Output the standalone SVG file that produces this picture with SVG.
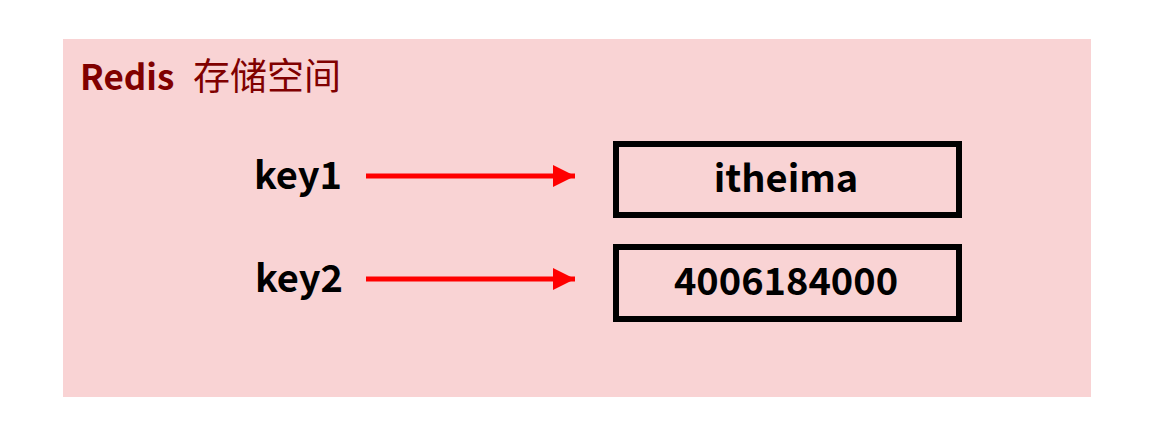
<svg xmlns="http://www.w3.org/2000/svg" width="1167" height="433" viewBox="0 0 1167 433">
<defs>
<style>
.lbl{font-family:"Noto Sans CJK SC","Liberation Sans",sans-serif;font-weight:bold;font-size:38px;fill:#000}
.box{fill:none;stroke:#000;stroke-width:6}
.arr{stroke:#FF0000;stroke-width:5;fill:none}
</style>
<marker id="ah" markerUnits="userSpaceOnUse" markerWidth="24" markerHeight="24" refX="22" refY="11" orient="auto">
<path d="M0,0 L22,11 L0,22 Z" fill="#FF0000"/>
</marker>
</defs>
<rect width="1167" height="433" fill="#FFFFFF"/>
<g id="storage">
<rect x="63" y="39" width="1028" height="358" fill="#F9D3D4"/>
<text x="80" y="90" font-family="Noto Sans CJK SC,Liberation Sans,sans-serif" font-size="35" fill="#800000"><tspan font-weight="bold">Redis</tspan><tspan x="193" font-size="37">存储空间</tspan></text>
</g>
<g id="key1"><text class="lbl" x="298" y="189" text-anchor="middle">key1</text></g>
<g id="key2"><text class="lbl" x="299" y="292" text-anchor="middle">key2</text></g>
<g id="val1">
<rect class="box" x="616" y="144" width="343" height="71"/>
<text class="lbl" x="786" y="192" text-anchor="middle">itheima</text>
</g>
<g id="val2">
<rect class="box" x="616" y="247" width="343" height="72"/>
<text class="lbl" x="786" y="295" text-anchor="middle">4006184000</text>
</g>
<g id="connectors">
<line class="arr" x1="366" y1="176" x2="575" y2="176" marker-end="url(#ah)"/>
<line class="arr" x1="366" y1="279" x2="575" y2="279" marker-end="url(#ah)"/>
</g>
</svg>
